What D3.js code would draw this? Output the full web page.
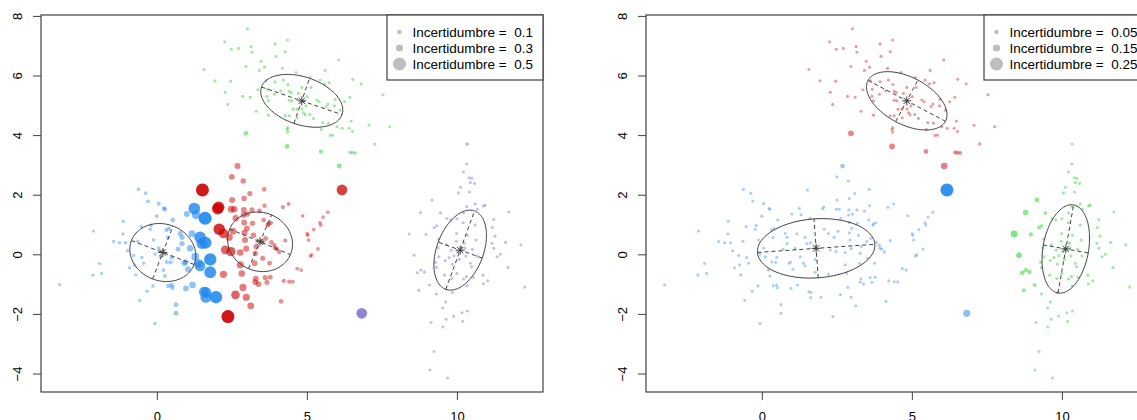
<!DOCTYPE html>
<html>
<head>
<meta charset="utf-8">
<script src="https://cdn.jsdelivr.net/npm/d3@7"></script>
<style>
  body { margin: 0; background: #fff; }
  text { font-family: "Liberation Sans", Arial, sans-serif; font-size: 13px; fill: #000; }
</style>
</head>
<body>
<div id="chart"></div>
<script>
// each point: [x, y, uncertainty left panel, uncertainty right panel]
// left class blue, right class blue
const blueBlue = [
  [-3.24,-1.02,.03,.01],[-2.11,0.78,.03,.01],[-2.13,-0.70,.03,.01],[-1.91,-0.31,.03,.01],[-1.84,-0.64,.03,.01],
  [-1.44,0.43,.04,.01],[-1.12,1.11,.04,.01],[-1.13,0.68,.04,.01],[-1.24,0.39,.04,.01],[-1.04,0.39,.04,.01],
  [-0.97,0.12,.04,.01],[-0.91,-0.45,.04,.01],[-0.77,-0.04,.04,.01],[-0.74,-0.36,.04,.01],[-0.70,-0.69,.04,.01],
  [-0.57,-1.55,.04,.01],[-0.61,2.18,.05,.01],[-0.37,2.05,.06,.01],[-0.30,1.78,.06,.01],[-0.52,0.93,.05,.01],
  [-0.63,0.44,.04,.01],[-0.50,-0.11,.04,.01],[-0.44,-0.30,.04,.01],[-0.32,-1.24,.05,.01],[-0.13,-1.06,.05,.01],
  [-0.06,-2.32,.05,.01],[-0.22,0.84,.05,.01],[-0.19,0.97,.05,.01],[0.00,1.28,.06,.01],[0.06,1.70,.08,.01],
  [0.24,1.54,.1,.01],[0.27,1.51,.1,.01],[0.32,0.82,.08,.01],[0.37,0.56,.08,.01],[0.41,0.86,.09,.01],
  [0.53,1.15,.12,.01],[-0.11,0.48,.05,.01],[-0.06,0.01,.05,.01],[0.06,0.21,.06,.01],[0.12,-0.08,.06,.01],
  [0.22,-0.53,.07,.01],[0.27,-0.73,.08,.01],[0.33,-0.26,.08,.01],[0.46,-0.27,.09,.01],[0.50,-0.10,.1,.01],
  [0.38,-1.06,.1,.01],[0.49,-1.03,.12,.01],[0.52,-1.12,.12,.01],[0.64,-1.69,.14,.01],[0.64,-1.98,.14,.01],
  [0.97,-1.14,.2,.01],[1.19,-1.03,.26,.01],[0.71,0.17,.14,.01],[0.78,0.70,.15,.01],[0.84,0.57,.16,.01],
  [0.84,0.36,.16,.01],[0.91,-0.30,.18,.01],[0.96,-0.26,.19,.01],[1.00,1.35,.22,.01],[1.04,-0.50,.22,.01],
  [1.11,0.20,.25,.01],[1.17,0.69,.28,.01],[1.25,1.54,.45,.01],[1.28,-0.08,.32,.01],[1.31,1.33,.35,.01],
  [1.39,-0.30,.35,.01],[1.44,0.57,.45,.01],[1.44,-0.39,.42,.01],[1.50,0.36,.42,.01],[1.57,-1.26,.4,.01],
  [1.64,-1.28,.42,.01],[1.63,-1.45,.42,.01],[1.78,-0.60,.46,.01],[1.78,-0.17,.48,.01],[1.62,0.39,.47,.01],
  [1.61,1.21,.5,.01],[1.97,-1.44,.48,.01]
]
// left class red, right class blue
const redBlue = [
  [1.52,2.16,.5,.01],[2.03,1.53,.45,.01],[2.06,1.58,.45,.01],[2.08,0.84,.45,.01],[2.22,0.70,.38,.01],
  [2.22,-0.67,.3,.01],[2.28,0.15,.35,.01],[2.41,0.57,.3,.01],[2.47,0.09,.37,.01],[2.37,-2.09,.5,.01],
  [2.48,1.51,.28,.01],[2.50,2.60,.2,.01],[2.51,1.82,.22,.01],[2.58,1.51,.25,.01],[2.54,0.77,.27,.01],
  [2.62,-1.36,.35,.01],[2.63,1.21,.24,.01],[2.78,-0.35,.3,.01],[2.78,0.06,.26,.01],[2.83,-0.64,.25,.01],
  [2.87,-1.11,.3,.01],[2.88,2.46,.18,.01],[2.89,1.32,.2,.01],[2.90,1.49,.2,.01],[2.91,1.87,.18,.01],
  [2.91,1.07,.2,.01],[2.92,0.72,.22,.01],[2.94,0.48,.22,.01],[2.98,-1.44,.3,.01],[2.98,0.19,.22,.01],
  [3.00,0.87,.2,.01],[3.02,1.35,.18,.01],[3.10,2.04,.16,.01],[3.13,-1.73,.28,.01],[3.17,1.49,.16,.01],
  [3.19,1.04,.17,.01],[3.22,0.64,.18,.01],[3.26,-0.30,.2,.01],[3.28,0.03,.18,.01],[3.28,-0.93,.2,.01],
  [3.30,-0.82,.2,.01],[3.31,0.26,.17,.01],[3.39,-1.00,.2,.01],[3.42,1.45,.14,.01],[3.50,0.43,.15,.01],
  [3.53,-0.13,.15,.01],[3.56,1.15,.13,.01],[3.58,2.18,.12,.01],[3.59,1.63,.12,.01],[3.61,-0.78,.15,.01],
  [3.63,0.53,.13,.01],[3.67,-0.94,.15,.01],[3.70,0.98,.12,.01],[3.72,1.02,.12,.01],[3.76,-0.30,.13,.01],
  [3.78,-0.77,.14,.01],[3.80,1.06,.11,.01],[3.82,0.40,.12,.01],[3.92,0.30,.11,.01],[3.94,0.20,.11,.01],
  [4.00,0.18,.1,.01],[4.08,0.08,.1,.01],[4.14,-1.58,.12,.01],[4.20,1.58,.09,.01],[4.23,-0.89,.1,.01],
  [4.28,0.46,.09,.01],[4.39,1.69,.08,.01],[4.41,-0.92,.09,.01],[4.53,-0.92,.08,.01],[4.68,-0.48,.07,.01],
  [4.81,-0.53,.07,.01],[4.86,1.29,.06,.01],[5.01,0.69,.06,.01],[5.03,0.64,.06,.01],[5.06,0.48,.06,.01],
  [5.12,-0.06,.06,.01],[5.16,-0.02,.06,.01],[5.23,0.83,.06,.01],[5.37,0.18,.06,.01],[5.44,1.06,.06,.01],
  [5.46,0.98,.06,.01],[5.54,1.25,.06,.01],[5.70,1.41,.06,.01],[2.69,2.96,.22,.06],[6.17,2.16,.42,.25]
]
// left class green, right class red
const greenRed = [
  [3.02,7.57,.02,.01],[2.26,7.13,.02,.01],[2.48,6.88,.02,.01],[2.72,6.91,.02,.01],[3.14,6.97,.02,.01],
  [3.17,6.78,.02,.01],[3.94,7.06,.02,.01],[4.28,6.80,.02,.01],[4.36,7.19,.02,.01],[3.97,6.64,.02,.01],
  [1.57,6.20,.02,.01],[1.94,5.82,.02,.01],[2.46,5.81,.02,.01],[2.97,6.30,.02,.01],[2.86,5.30,.02,.01],
  [3.11,5.27,.02,.01],[3.48,6.48,.02,.01],[3.59,6.28,.02,.01],[3.42,6.17,.02,.01],[3.63,5.82,.02,.01],
  [3.72,5.15,.02,.01],[3.94,5.79,.02,.01],[4.19,6.24,.02,.01],[2.28,5.44,.02,.01],[2.36,5.03,.02,.01],
  [3.31,4.80,.02,.01],[3.37,5.52,.02,.01],[3.72,4.67,.02,.01],[3.67,5.30,.02,.01],[3.68,5.54,.02,.01],
  [3.92,5.37,.02,.01],[4.13,5.49,.02,.01],[4.22,5.85,.02,.01],[4.37,5.70,.02,.01],[4.41,5.47,.02,.01],
  [4.41,5.17,.02,.01],[4.48,5.43,.02,.01],[4.50,5.15,.02,.01],[4.54,4.87,.02,.01],[4.67,4.87,.02,.01],
  [4.84,4.88,.02,.01],[4.28,4.65,.02,.01],[4.41,4.65,.02,.01],[4.68,4.58,.02,.01],[4.36,4.25,.02,.01],
  [4.36,4.10,.02,.01],[4.64,6.10,.02,.01],[4.72,5.40,.02,.01],[4.83,5.60,.02,.01],[4.89,4.75,.02,.01],
  [4.97,4.98,.02,.01],[4.94,4.68,.02,.01],[5.01,5.29,.02,.01],[5.10,4.69,.02,.01],[5.11,5.93,.02,.01],
  [5.14,5.60,.02,.01],[5.22,4.56,.02,.01],[5.33,5.18,.02,.01],[5.44,5.85,.02,.01],[5.41,5.12,.02,.01],
  [5.48,4.19,.02,.01],[5.53,4.42,.02,.01],[5.59,5.72,.02,.01],[5.61,6.17,.02,.01],[5.64,4.96,.02,.01],
  [5.70,5.04,.02,.01],[5.74,5.76,.02,.01],[5.72,4.40,.02,.01],[5.78,3.99,.02,.01],[5.86,4.00,.02,.01],
  [5.92,4.98,.02,.01],[5.94,5.20,.02,.01],[6.00,4.28,.02,.01],[6.06,6.52,.02,.01],[6.11,4.84,.02,.01],
  [6.18,4.23,.02,.01],[6.26,5.12,.02,.01],[6.41,4.23,.02,.01],[6.43,5.27,.02,.01],[6.48,4.47,.02,.01],
  [6.52,4.12,.02,.01],[6.53,5.87,.02,.01],[6.81,5.72,.02,.01],[7.07,4.33,.02,.01],[7.26,3.70,.03,.02],
  [7.54,5.35,.02,.01],[7.76,4.28,.02,.01],[4.34,4.19,.03,.01],[2.97,4.06,.12,.1],[4.34,3.62,.12,.1],
  [5.47,3.45,.1,.07],[6.44,3.42,.05,.04],[6.52,3.41,.05,.04],[6.61,3.40,.05,.04],[6.08,2.96,.14,.13]
]
// left class purple, right class green
const purpleGreen = [
  [10.34,3.70,.06,.01],[10.33,3.03,.02,.01],[10.22,2.76,.02,.01],[10.41,2.57,.02,.01],[10.50,2.55,.02,.01],
  [10.45,2.41,.02,.01],[10.59,2.38,.02,.01],[10.12,2.25,.02,.01],[10.05,2.06,.02,.01],[10.42,2.09,.02,.01],
  [9.17,1.82,.02,.07],[8.79,1.40,.02,.09],[9.45,1.39,.02,.03],[10.61,1.69,.02,.01],[10.68,1.51,.02,.01],
  [10.89,1.62,.02,.01],[10.94,1.65,.02,.01],[10.33,1.60,.02,.01],[11.73,1.42,.02,.01],[9.67,1.20,.02,.01],
  [9.80,1.15,.02,.01],[10.00,1.19,.02,.01],[10.21,1.06,.02,.01],[10.22,1.39,.02,.01],[9.24,0.90,.02,.04],
  [9.33,0.96,.02,.02],[11.23,1.17,.02,.01],[11.18,0.90,.02,.01],[10.61,0.98,.02,.01],[8.41,0.68,.02,.14],
  [8.97,0.67,.02,.05],[10.35,0.64,.02,.01],[9.99,0.70,.02,.01],[11.27,0.61,.02,.01],[9.39,0.51,.02,.01],
  [10.64,0.48,.02,.01],[9.98,0.44,.02,.01],[10.25,0.37,.02,.01],[11.17,0.37,.02,.01],[11.23,0.20,.02,.01],
  [11.62,0.40,.02,.01],[12.13,0.32,.02,.01],[9.37,0.22,.02,.01],[9.65,0.32,.02,.01],[9.81,0.14,.02,.01],
  [10.03,0.09,.02,.01],[10.27,0.22,.02,.01],[10.30,-0.06,.02,.01],[10.67,-0.06,.02,.01],[10.52,0.17,.02,.01],
  [8.57,-0.03,.02,.1],[9.40,-0.08,.02,.01],[9.61,-0.21,.02,.01],[9.74,-0.11,.02,.01],[9.90,-0.05,.02,.01],
  [10.08,-0.17,.02,.01],[11.34,-0.08,.02,.01],[11.45,0.00,.02,.01],[9.29,-0.27,.02,.01],[9.32,-0.44,.02,.01],
  [9.85,-0.33,.02,.01],[10.45,-0.30,.02,.01],[10.49,-0.42,.02,.01],[11.70,-0.44,.02,.01],[8.80,-0.53,.02,.05],
  [8.68,-0.62,.02,.06],[8.92,-0.59,.02,.05],[9.59,-0.70,.02,.01],[9.83,-0.81,.02,.01],[10.00,-0.64,.02,.01],
  [10.22,-0.83,.02,.01],[10.32,-0.75,.02,.01],[10.54,-0.77,.02,.01],[10.34,-1.06,.02,.01],[10.87,-0.70,.02,.01],
  [10.88,-0.99,.02,.01],[11.03,-0.89,.02,.01],[12.26,-1.10,.02,.01],[9.09,-1.03,.02,.04],[8.73,-1.21,.02,.04],
  [9.32,-1.33,.02,.01],[9.85,-1.28,.02,.01],[9.62,-1.60,.02,.01],[9.53,-1.80,.02,.01],[10.35,-1.90,.02,.01],
  [10.17,-1.96,.02,.01],[9.89,-2.08,.02,.01],[9.64,-2.18,.02,.01],[9.14,-2.29,.02,.01],[9.53,-2.44,.02,.01],
  [10.19,-2.25,.02,.01],[9.24,-3.26,.02,.01],[9.10,-3.88,.02,.01],[9.69,-4.15,.02,.01]
]
// left class purple, right class blue
const purpleBlue = [[6.83,-1.98,.42,.15]]

// ellipses: [centre x, centre y, semi-major, semi-minor, angle in degrees]
const leftEllipses = [[0.2,0.06,1.12,0.95,-21],[3.44,0.42,1.1,0.98,-23],[4.83,5.15,1.42,0.8,-19],[10.11,0.14,1.4,0.78,70]]
const rightEllipses = [[1.81,0.2,1.96,0.99,4],[4.83,5.15,1.46,0.79,-28],[10.13,0.18,1.5,0.76,80]]

const xTicks = [0, 5, 10]
const yTicks = [-4, -2, 0, 2, 4, 6, 8]
const leftLegend = ['0.1', '0.3', '0.5']
const rightLegend = ['0.05', '0.15', '0.25']

const colors = { blue: '#1C86EE', red: '#CD0000', green: '#00CD00', purple: '#6A5ACD' }

const groups = [
  { pts: blueBlue, left: 'blue', right: 'blue' },
  { pts: redBlue, left: 'red', right: 'blue' },
  { pts: greenRed, left: 'green', right: 'red' },
  { pts: purpleGreen, left: 'purple', right: 'green' },
  { pts: purpleBlue, left: 'purple', right: 'blue' }
]

const width = 1137, height = 420
const svg = d3.select('#chart').append('svg')
  .attr('width', width).attr('height', height)

const radius = d3.scaleLinear().domain([0, 0.2, 0.6, 1]).range([1.4, 2.2, 3.6, 6.5]).clamp(true)
const alpha = d3.scaleLinear().domain([0, 0.6, 1]).range([0.38, 0.52, 0.9]).clamp(true)
const lineCol = '#404040'
const nb = '\u00A0'

const panels = [
  { x0: 41, uMax: 0.5, legend: leftLegend, ellipses: leftEllipses, side: 'left', idx: 2, legW: 156 },
  { x0: 646, uMax: 0.25, legend: rightLegend, ellipses: rightEllipses, side: 'right', idx: 3, legW: 164 }
]

panels.forEach((p, pi) => {
  const x = d3.scaleLinear().domain([-3.86, 12.87]).range([p.x0, p.x0 + 502])
  const y = d3.scaleLinear().domain([-4.62, 8.03]).range([392, 15])
  const g = svg.append('g')

  g.append('clipPath').attr('id', 'clip' + pi)
    .append('rect').attr('x', p.x0).attr('y', 15).attr('width', 502).attr('height', 377)

  // points, least uncertain first
  const all = []
  groups.forEach(gr => gr.pts.forEach(d => all.push({ x: d[0], y: d[1], u: d[p.idx], cls: gr[p.side] })))
  all.sort((a, b) => a.u - b.u)
  g.append('g').attr('clip-path', `url(#clip${pi})`)
    .selectAll('circle').data(all).enter().append('circle')
    .attr('cx', d => x(d.x)).attr('cy', d => y(d.y))
    .attr('r', d => radius(d.u / p.uMax))
    .attr('fill', d => colors[d.cls])
    .attr('fill-opacity', d => alpha(d.u / p.uMax))

  // ellipses with dashed axes and centre asterisk
  const line = d3.line().x(d => x(d[0])).y(d => y(d[1]))
  p.ellipses.forEach(e => {
    const [cx, cy, a, b, ang] = e
    const th = ang * Math.PI / 180
    const pts = d3.range(0, 121).map(i => {
      const t = i / 120 * 2 * Math.PI
      const u = a * Math.cos(t), v = b * Math.sin(t)
      return [cx + u * Math.cos(th) - v * Math.sin(th), cy + u * Math.sin(th) + v * Math.cos(th)]
    })
    g.append('path').attr('d', line(pts)).attr('fill', 'none')
      .attr('stroke', lineCol).attr('stroke-width', 1)
    const axes = [
      [[cx - a * Math.cos(th), cy - a * Math.sin(th)], [cx + a * Math.cos(th), cy + a * Math.sin(th)]],
      [[cx + b * Math.sin(th), cy - b * Math.cos(th)], [cx - b * Math.sin(th), cy + b * Math.cos(th)]]
    ]
    axes.forEach(ax => g.append('path').attr('d', line(ax)).attr('fill', 'none')
      .attr('stroke', lineCol).attr('stroke-width', 1).attr('stroke-dasharray', '4,3'))
    const px = x(cx), py = y(cy), s = 4.5
    g.append('path')
      .attr('d', `M${px - s},${py}L${px + s},${py}M${px},${py - s}L${px},${py + s}` +
        `M${px - s * .7},${py - s * .7}L${px + s * .7},${py + s * .7}M${px - s * .7},${py + s * .7}L${px + s * .7},${py - s * .7}`)
      .attr('stroke', lineCol).attr('stroke-width', 1)
  })

  // box
  g.append('rect').attr('x', p.x0).attr('y', 15).attr('width', 502).attr('height', 377)
    .attr('fill', 'none').attr('stroke', lineCol).attr('stroke-width', 1.2)

  // axes
  const yAxis = g.append('g').attr('transform', `translate(${p.x0},0)`)
    .call(d3.axisLeft(y).tickValues(yTicks).tickSize(8).tickSizeOuter(0))
  yAxis.select('.domain').remove()
  yAxis.selectAll('line').attr('stroke', lineCol)
  yAxis.selectAll('text').attr('x', null).attr('dy', null)
    .attr('text-anchor', 'middle').attr('transform', 'translate(-19.5,0) rotate(-90)')
    .style('font-size', '13px').style('font-family', '"Liberation Sans", Arial, sans-serif')

  const xAxis = g.append('g').attr('transform', 'translate(0,392)')
    .call(d3.axisBottom(x).tickValues(xTicks).tickSize(8).tickPadding(12).tickSizeOuter(0))
  xAxis.select('.domain').remove()
  xAxis.selectAll('line').attr('stroke', lineCol)
  xAxis.selectAll('text').style('font-size', '13px').style('font-family', '"Liberation Sans", Arial, sans-serif')

  // legend, right-aligned to the plot box
  const lx = p.x0 + 502 - p.legW
  const leg = g.append('g')
  leg.append('rect').attr('x', lx).attr('y', 15).attr('width', p.legW).attr('height', 65)
    .attr('fill', '#fff').attr('stroke', lineCol).attr('stroke-width', 1.2)
  p.legend.forEach((lab, i) => {
    const ly = 32 + i * 16
    leg.append('circle').attr('cx', lx + 12.5).attr('cy', ly)
      .attr('r', radius([0.2, 0.6, 1][i])).attr('fill', '#BEBEBE')
    leg.append('text').attr('x', lx + 25.5).attr('y', ly + 5)
      .style('font-size', '13.5px')
      .text('Incertidumbre' + nb + '=' + nb + nb + lab)
  })
})
</script>
</body>
</html>
